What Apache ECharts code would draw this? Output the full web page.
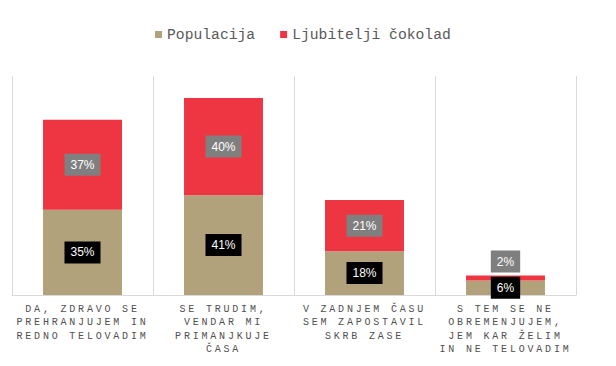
<!DOCTYPE html>
<html>
<head>
<meta charset="utf-8">
<script src="https://cdn.jsdelivr.net/npm/echarts@6/dist/echarts.min.js"></script>
<style>
  html, body { margin: 0; padding: 0; background: #fff; }
  #chart { width: 616px; height: 366px; }
  #chart text[style*="Courier"] { letter-spacing: 2.8px; }
</style>
</head>
<body>
<div id="chart"></div>
<script>
const categories = [
  'DA, ZDRAVO SE\nPREHRANJUJEM IN\nREDNO TELOVADIM',
  'SE TRUDIM,\nVENDAR MI\nPRIMANJKUJE\nČASA',
  'V ZADNJEM ČASU\nSEM ZAPOSTAVIL\nSKRB ZASE',
  'S TEM SE NE\nOBREMENJUJEM,\nJEM KAR ŽELIM\nIN NE TELOVADIM'
];
const seriesNames = ['Populacija', 'Ljubitelji čokolad'];
const populacija = [35, 41, 18, 6];
const ljubitelji = [37, 40, 21, 2];

const chart = echarts.init(document.getElementById('chart'), null, { renderer: 'svg' });

function labelStyle(bg) {
  return {
    show: true,
    position: 'inside',
    formatter: '{c}%',
    color: '#ffffff',
    fontFamily: 'Liberation Sans',
    fontSize: 12,
    lineHeight: 12,
    backgroundColor: bg,
    padding: [5, 6]
  };
}

chart.setOption({
  animation: false,
  legend: {
    top: 22,
    left: 150,
    itemWidth: 7,
    itemHeight: 7,
    itemGap: 25,
    icon: 'rect',
    textStyle: { fontFamily: 'Liberation Mono', fontSize: 14.7, color: '#595959' },
    data: seriesNames
  },
  grid: { left: 12, right: 40, top: 76, bottom: 71 },
  xAxis: {
    type: 'category',
    data: categories,
    axisLine: { lineStyle: { color: '#d9d9d9', width: 1 } },
    axisTick: { show: false },
    splitLine: { show: true, lineStyle: { color: '#d9d9d9', width: 1 } },
    axisLabel: {
      interval: 0,
      margin: 8,
      fontFamily: 'Liberation Mono, Courier',
      fontSize: 10,
      lineHeight: 13.3,
      color: '#4f4f4f'
    }
  },
  yAxis: {
    type: 'value',
    min: 0,
    max: 90,
    show: false,
    splitLine: { show: false }
  },
  series: [
    {
      name: seriesNames[0],
      type: 'bar',
      stack: 'total',
      barWidth: '56%',
      itemStyle: { color: '#b2a27b' },
      label: labelStyle('#000000'),
      data: populacija
    },
    {
      name: seriesNames[1],
      type: 'bar',
      stack: 'total',
      barWidth: '56%',
      itemStyle: { color: '#ee3542' },
      label: labelStyle('#7f7f7f'),
      data: ljubitelji.map(v => v < 5 ? { value: v, label: { position: 'top', distance: 3 } } : v)
    }
  ]
});
</script>
</body>
</html>
